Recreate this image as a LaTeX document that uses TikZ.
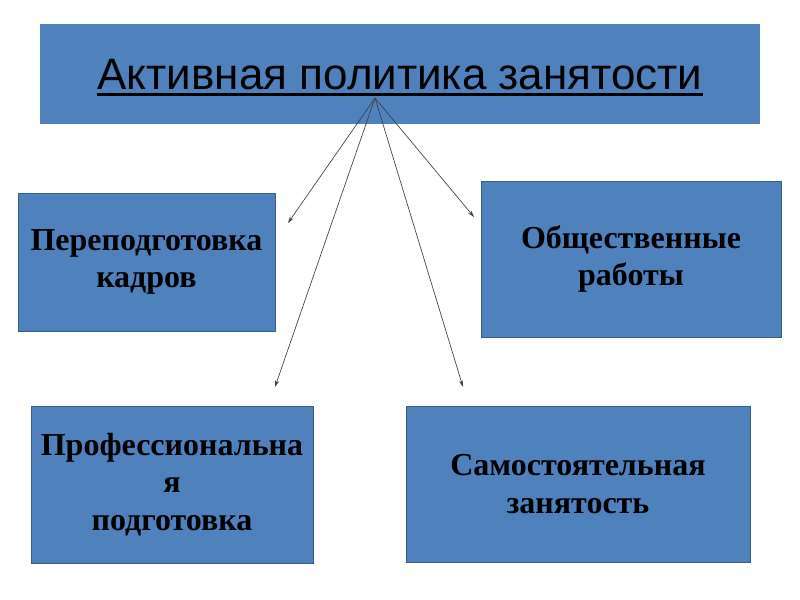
\documentclass[tikz,border=0pt]{standalone}
\usepackage{fontspec}
\setmainfont{Liberation Serif}
\newfontfamily\titlefont{Liberation Sans}
\usetikzlibrary{arrows.meta}
\definecolor{boxblue}{HTML}{4F81BD}
\definecolor{boxedge}{HTML}{385D8A}
\begin{document}
\begin{tikzpicture}[x=0.75pt,y=-0.75pt,
		every node/.style={inner sep=0pt,align=center},
		box/.style={rectangle,fill=boxblue,draw=boxedge,line width=0.6pt,font=\bfseries\fontsize{24}{28}\selectfont},
		link/.style={draw=black!75,line width=0.5pt,-{Stealth[length=5pt,width=3pt]}}]
	\useasboundingbox (0,0) rectangle (800,600);
	\node[rectangle,fill=boxblue,minimum width=540pt,minimum height=75pt] (title) at (400,74) {};
	\node[font=\titlefont\fontsize{33}{38}\selectfont] (titletext) at (400,75) {Активная политика занятости};
	\draw[line width=2pt] ([yshift=-3.5pt]titletext.base west) -- ([yshift=-3.5pt]titletext.base east);
	\node[box,minimum width=192.75pt,minimum height=103.5pt] (retrain) at (146.5,262) {Переподготовка\\кадров};
	\node[box,minimum width=225pt,minimum height=117pt] (public) at (631,259) {Общественные\\работы};
	\node[box,minimum width=211.5pt,minimum height=117.75pt] (prof) at (172,484.5) {Профессиональна\\я\\подготовка};
	\node[box,minimum width=258pt,minimum height=117pt] (self) at (578,484) {Самостоятельная\\занятость};
	\coordinate (hub) at (375,98);
	\coordinate (a1) at (288,223);
	\coordinate (a2) at (474,217);
	\coordinate (a3) at (275,387);
	\coordinate (a4) at (463,387);
	\foreach \t in {a1,a2,a3,a4}
		\draw[link] (hub) -- (\t);
\end{tikzpicture}
\end{document}
